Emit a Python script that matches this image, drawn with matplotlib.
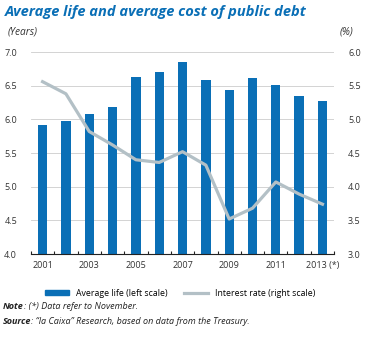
import numpy as np
import matplotlib
matplotlib.use("Agg")
import matplotlib.pyplot as plt
from matplotlib.lines import Line2D
from matplotlib.patches import Patch

years = np.arange(2001, 2014)
avg_life = [5.92, 5.98, 6.08, 6.19, 6.63, 6.71, 6.85, 6.59, 6.44, 6.62, 6.51, 6.35, 6.28]
interest = [5.56, 5.38, 4.82, 4.62, 4.40, 4.36, 4.52, 4.32, 3.52, 3.68, 4.07, 3.89, 3.74]
xlabels = ["2001", "", "2003", "", "2005", "", "2007", "", "2009", "", "2011", "", "2013 (*)"]

BLUE = "#0a6fb6"
GREY = "#b3c0c6"
TXT = "#333333"
plt.rcParams["font.family"] = ["Open Sans", "DejaVu Sans"]

fig = plt.figure(figsize=(3.68, 3.38), dpi=100)
ax = fig.add_axes([0.084, 0.2485, 0.824, 0.5975])
x = np.arange(len(years))
ax.bar(x, avg_life, width=0.4, color=BLUE, zorder=2)
ax.set_ylim(4.0, 7.0)
ax.set_xlim(-0.5, len(years) - 0.5)
ax.set_yticks(np.arange(4.0, 7.01, 0.5))
ax.set_yticklabels([f"{v:.1f}" for v in np.arange(4.0, 7.01, 0.5)], fontsize=6.5, color=TXT)
ax.grid(axis="y", color="#cccccc", linewidth=0.6, zorder=0)
ax.set_axisbelow(True)
for s in ("left", "right", "top"):
    ax.spines[s].set_visible(False)
ax.spines["bottom"].set_color("#222222")
ax.spines["bottom"].set_linewidth(0.8)
ax.tick_params(axis="y", length=0, pad=10)
ax.set_xticks(x)
ax.set_xticklabels(xlabels, fontsize=6.5, color=TXT)
ax.tick_params(axis="x", length=0, pad=5)
ax.set_xticks(np.arange(-0.5, len(years)), minor=True)
ax.tick_params(axis="x", which="minor", direction="in", length=2.5, width=0.8, color="#222222")

ax2 = ax.twinx()
ax2.plot(x, interest, color=GREY, linewidth=2.3, zorder=3)
ax2.set_ylim(3.0, 6.0)
ax2.set_yticks(np.arange(3.0, 6.01, 0.5))
ax2.set_yticklabels([f"{v:.1f}" for v in np.arange(3.0, 6.01, 0.5)], fontsize=6.5, color=TXT)
ax2.tick_params(axis="y", length=0, pad=10)
for s in ("left", "right", "top", "bottom"):
    ax2.spines[s].set_visible(False)

fig.text(0.012, 0.965, "Average life and average cost of public debt", fontsize=10.5,
         fontweight="bold", fontstyle="italic", color=BLUE, va="center")
fig.text(0.022, 0.905, "(Years)", fontsize=7.3, fontstyle="italic", color=TXT, va="center")
fig.text(0.922, 0.905, "(%)", fontsize=7.3, fontstyle="italic", color=TXT, va="center")

handles = [Patch(color=BLUE), Line2D([0], [0], color=GREY, linewidth=2.3)]
fig.legend(handles, ["Average life (left scale)", "Interest rate (right scale)"],
           loc="center", bbox_to_anchor=(0.49, 0.133), ncol=2, frameon=False, fontsize=6.3,
           handlelength=2.8, handleheight=0.55, columnspacing=1.8, handletextpad=0.8)

notes = [("Note", ": (*) Data refer to November.", 0.092),
         ("Source", ": \u201cla Caixa\u201d Research, based on data from the Treasury.", 0.05)]
for head, rest, yy in notes:
    t = fig.text(0.008, yy, head, fontsize=6.5, fontweight="bold", fontstyle="italic",
                 color="#222222", va="center")
    fig.get_axes()[0].annotate(rest, xy=(1, 0.5), xycoords=t, va="center", ha="left",
                               fontsize=6.5, fontstyle="italic", color="#222222",
                               annotation_clip=False)

fig.savefig("out.png", dpi=100)
